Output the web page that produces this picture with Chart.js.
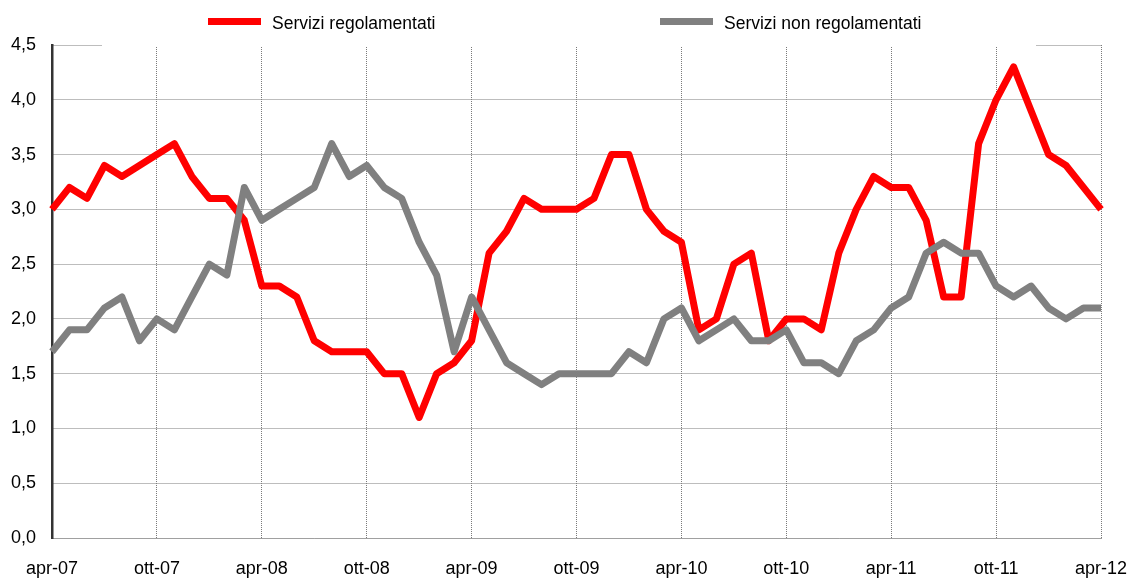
<!DOCTYPE html>
<html>
<head>
<meta charset="utf-8">
<script src="https://cdn.jsdelivr.net/npm/chart.js@4/dist/chart.umd.min.js"></script>
<style>
  html, body { margin: 0; padding: 0; background: #ffffff; }
  #wrap { width: 1128px; height: 581px; position: relative; }
</style>
</head>
<body>
<div id="wrap"><canvas id="c" width="1128" height="581"></canvas></div>
<script>
// ---- data ----
const months = [
  'apr-07','mag-07','giu-07','lug-07','ago-07','set-07','ott-07','nov-07','dic-07','gen-08','feb-08','mar-08',
  'apr-08','mag-08','giu-08','lug-08','ago-08','set-08','ott-08','nov-08','dic-08','gen-09','feb-09','mar-09',
  'apr-09','mag-09','giu-09','lug-09','ago-09','set-09','ott-09','nov-09','dic-09','gen-10','feb-10','mar-10',
  'apr-10','mag-10','giu-10','lug-10','ago-10','set-10','ott-10','nov-10','dic-10','gen-11','feb-11','mar-11',
  'apr-11','mag-11','giu-11','lug-11','ago-11','set-11','ott-11','nov-11','dic-11','gen-12','feb-12','mar-12',
  'apr-12'
];
const tickLabels = ['apr-07','ott-07','apr-08','ott-08','apr-09','ott-09','apr-10','ott-10','apr-11','ott-11','apr-12'];
const seriesNames = ['Servizi regolamentati', 'Servizi non regolamentati'];
const regolamentati = [
  3.0,3.2,3.1,3.4,3.3,3.4,3.5,3.6,3.3,3.1,3.1,2.9,
  2.3,2.3,2.2,1.8,1.7,1.7,1.7,1.5,1.5,1.1,1.5,1.6,
  1.8,2.6,2.8,3.1,3.0,3.0,3.0,3.1,3.5,3.5,3.0,2.8,
  2.7,1.9,2.0,2.5,2.6,1.8,2.0,2.0,1.9,2.6,3.0,3.3,
  3.2,3.2,2.9,2.2,2.2,3.6,4.0,4.3,3.9,3.5,3.4,3.2,3.0
];
const nonRegolamentati = [
  1.7,1.9,1.9,2.1,2.2,1.8,2.0,1.9,2.2,2.5,2.4,3.2,
  2.9,3.0,3.1,3.2,3.6,3.3,3.4,3.2,3.1,2.7,2.4,1.7,
  2.2,1.9,1.6,1.5,1.4,1.5,1.5,1.5,1.5,1.7,1.6,2.0,
  2.1,1.8,1.9,2.0,1.8,1.8,1.9,1.6,1.6,1.5,1.8,1.9,
  2.1,2.2,2.6,2.7,2.6,2.6,2.3,2.2,2.3,2.1,2.0,2.1,2.1
];

// ---- style ----
const FONT = "'Liberation Sans Narrow', 'Arial Narrow', 'Liberation Sans', Arial, sans-serif";
const RED = '#ff0000';
const GREY = '#808080';
const GRID = '#7a7a7a';

const legendPlugin = {
  id: 'customLegend',
  beforeDatasetsDraw(chart) {
    // white band behind the legend (hides part of the top grid line, as in the original)
    const ctx = chart.ctx;
    ctx.save();
    ctx.fillStyle = '#ffffff';
    ctx.fillRect(102, 0, 934, chart.chartArea.top + 1.5);
    ctx.restore();
  },
  afterDraw(chart) {
    const ctx = chart.ctx;
    const items = [
      { x: 208, ds: chart.data.datasets[1] },
      { x: 660, ds: chart.data.datasets[0] }
    ];
    ctx.save();
    ctx.font = '17.5px ' + FONT;
    ctx.textBaseline = 'middle';
    ctx.textAlign = 'left';
    items.forEach(it => {
      ctx.fillStyle = it.ds.borderColor;
      ctx.fillRect(it.x, 18, 53, 7);
      ctx.fillStyle = '#000000';
      ctx.fillText(it.ds.label, it.x + 64, 24);
    });
    ctx.restore();
  }
};

new Chart(document.getElementById('c'), {
  type: 'line',
  data: {
    labels: months,
    datasets: [
      {
        label: seriesNames[1],
        data: nonRegolamentati,
        borderColor: GREY,
        backgroundColor: GREY,
        borderWidth: 7,
        pointRadius: 0,
        tension: 0,
        borderJoinStyle: 'round',
        order: 0
      },
      {
        label: seriesNames[0],
        data: regolamentati,
        borderColor: RED,
        backgroundColor: RED,
        borderWidth: 7,
        pointRadius: 0,
        tension: 0,
        borderJoinStyle: 'round',
        order: 1
      }
    ]
  },
  options: {
    responsive: false,
    animation: false,
    layout: { padding: { top: 45, right: 27, bottom: 0, left: 0 } },
    plugins: { legend: { display: false }, tooltip: { enabled: false } },
    scales: {
      x: {
        type: 'category',
        offset: false,
        afterFit(scale) { scale.height = 43; scale.paddingLeft = 0; scale.paddingRight = 0; },
        grid: {
          drawTicks: false,
          lineWidth: 1,
          color: (c) => (c.index % 6 === 0 ? GRID : 'rgba(0,0,0,0)')
        },
        border: { display: true, color: '#a0a0a0', width: 1, dash: [1, 1] },
        ticks: {
          autoSkip: false,
          maxRotation: 0,
          minRotation: 0,
          padding: 20,
          color: '#000000',
          font: { family: FONT, size: 18 },
          callback: (v, i) => (i % 6 === 0 ? tickLabels[i / 6] : '')
        }
      },
      y: {
        min: 0,
        max: 4.5,
        afterFit(scale) { scale.width = 52; scale.paddingTop = 0; scale.paddingBottom = 0; },
        grid: { drawTicks: false, color: GRID, lineWidth: 1 },
        border: { display: true, color: '#333333', width: 2.5, dash: [1, 1] },
        ticks: {
          stepSize: 0.5,
          padding: 16,
          color: '#000000',
          font: { family: FONT, size: 18 },
          callback: (v) => v.toFixed(1).replace('.', ',')
        }
      }
    }
  },
  plugins: [legendPlugin]
});
</script>
</body>
</html>
